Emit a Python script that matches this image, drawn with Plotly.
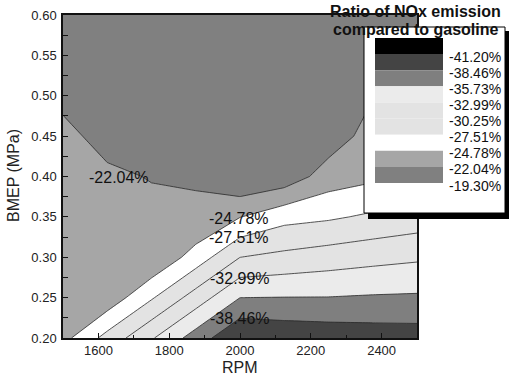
import plotly.graph_objects as go

# ---------------- data ----------------
rpm = [1500, 1625, 1750, 1875, 2000, 2125, 2250, 2375, 2500]
bmep = [0.20, 0.25, 0.30, 0.35, 0.40, 0.45, 0.50, 0.55, 0.60]

# NOx ratio (%) compared to gasoline, one list per RPM column (BMEP 0.20 -> 0.60)
nox_1500 = [-23.90, -23.60, -23.30, -23.00, -22.70, -22.40, -21.70, -21.20, -20.70]
nox_1625 = [-28.45, -22.97, -23.30, -22.90, -22.28, -21.58, -21.10, -20.70, -20.30]
nox_1750 = [-32.70, -27.22, -22.20, -22.40, -21.97, -21.30, -20.80, -20.40, -20.00]
nox_1875 = [-36.95, -31.47, -25.99, -22.20, -21.95, -21.00, -20.60, -20.30, -20.00]
nox_2000 = [-41.10, -35.72, -30.24, -24.70, -19.40, -19.60, -19.80, -20.00, -20.20]
nox_2125 = [-40.50, -35.79, -30.95, -26.60, -20.30, -19.80, -19.90, -20.00, -20.20]
nox_2250 = [-40.20, -35.80, -31.58, -27.12, -23.34, -20.50, -20.80, -20.40, -20.20]
nox_2375 = [-39.94, -36.00, -32.12, -27.96, -24.20, -23.19, -21.90, -21.30, -20.70]
nox_2500 = [-39.80, -36.10, -32.57, -28.70, -24.70, -23.90, -23.20, -22.20, -21.50]

columns = [nox_1500, nox_1625, nox_1750, nox_1875, nox_2000,
           nox_2125, nox_2250, nox_2375, nox_2500]

# contour levels shown in the legend (band boundaries)
level_low = -43.94
level_labels = ["-41.20%", "-38.46%", "-35.73%", "-32.99%", "-30.25%",
                "-27.51%", "-24.78%", "-22.04%", "-19.30%"]
level_step = 2.73778
# band colours from lowest to highest value
band_colors = ["#000000", "#444444", "#7f7f7f", "#ebebeb", "#e3e3e3",
               "#e3e3e3", "#ffffff", "#a6a6a6", "#808080"]

# in-plot contour labels
label_text = ["-22.04%", "-24.78%", "-27.51%", "-32.99%", "-38.46%"]
label_rpm = [1658, 1997, 1997, 2000, 2000]
label_bmep = [0.399, 0.3485, 0.325, 0.2733, 0.2237]

legend_title_lines = ["Ratio of NOx emission", "compared to gasoline"]
x_title = "RPM"
y_title = "BMEP (MPa)"

# ---------------- figure ----------------
z = [list(r) for r in zip(*columns)]

W, H = 510, 377
ML, MR, MT, MB = 63, 0, 15, 39
PW, PH = W - ML - MR, H - MT - MB


def px(x):
    return (x - ML) / PW


def py(y):
    return (H - MB - y) / PH


nb = len(band_colors)
colorscale = [[k / (nb - 1), c] for k, c in enumerate(band_colors)]

start = level_low + level_step
end = level_low + (nb - 1) * level_step + 0.01

fig = go.Figure()
fig.add_trace(go.Contour(
    x=rpm, y=bmep, z=z,
    autocontour=False,
    contours=dict(start=start, end=end, size=level_step,
                  coloring="fill", showlines=True, showlabels=False),
    colorscale=colorscale,
    line=dict(color="#2a2a2a", width=0.8, smoothing=0),
    showscale=False,
    hoverinfo="skip",
))

font_main = "Liberation Sans, Arial, sans-serif"

annotations = []
for t, xr, yb in zip(label_text, label_rpm, label_bmep):
    annotations.append(dict(x=xr, y=yb, xref="x", yref="y", text=t,
                            showarrow=False,
                            font=dict(family=font_main, size=16, color="#111")))

# legend box (shadow + white box)
shapes = [
    dict(type="rect", xref="paper", yref="paper",
         x0=px(368), x1=px(509), y0=py(219), y1=py(31),
         fillcolor="#000000", line=dict(width=0), layer="above"),
    dict(type="rect", xref="paper", yref="paper",
         x0=px(364), x1=px(505), y0=py(213), y1=py(27),
         fillcolor="#ffffff", line=dict(color="#000000", width=1), layer="above"),
]
sw_top, sw_bot = 38, 183
sw_h = (sw_bot - sw_top) / nb
# lowest value on top
for k, c in enumerate(band_colors):
    y0 = sw_top + k * sw_h
    shapes.append(dict(type="rect", xref="paper", yref="paper",
                       x0=px(375), x1=px(443), y0=py(y0 + sw_h), y1=py(y0),
                       fillcolor=c, line=dict(width=0), layer="above"))
for k, t in enumerate(level_labels):
    yb = sw_top + (k + 1) * sw_h + 2.5
    annotations.append(dict(x=px(447), y=py(yb), xref="paper", yref="paper",
                            xanchor="left", yanchor="middle", text=t,
                            showarrow=False,
                            font=dict(family=font_main, size=14, color="#111")))

for i, line in enumerate(legend_title_lines):
    annotations.append(dict(x=px(415), y=py(12 + 18 * i), xref="paper", yref="paper",
                            xanchor="center", yanchor="middle",
                            text="<b>" + line + "</b>", showarrow=False,
                            font=dict(family=font_main, size=16, color="#111")))

# axis titles
annotations.append(dict(x=px(13), y=py(176), xref="paper", yref="paper",
                        xanchor="center", yanchor="middle", textangle=-90,
                        text=y_title, showarrow=False,
                        font=dict(family=font_main, size=16, color="#222")))
annotations.append(dict(x=px(240), y=py(367), xref="paper", yref="paper",
                        xanchor="center", yanchor="middle",
                        text=x_title, showarrow=False,
                        font=dict(family=font_main, size=16, color="#222")))

axis_common = dict(showline=True, linecolor="#111", linewidth=1.5, mirror=True,
                   ticks="inside", ticklen=5, tickwidth=1, tickcolor="#111",
                   showgrid=False, zeroline=False,
                   tickfont=dict(family=font_main, size=13, color="#222"))

fig.update_layout(
    width=W, height=H,
    margin=dict(l=ML, r=MR, t=MT, b=MB, pad=0),
    paper_bgcolor="white", plot_bgcolor="white",
    showlegend=False,
    xaxis=dict(domain=[0, (417 - ML) / PW], range=[1500, 2500],
               tick0=1600, dtick=200,
               minor=dict(ticks="inside", ticklen=3, dtick=100, tick0=1500,
                          tickcolor="#111"),
               **axis_common),
    yaxis=dict(range=[0.2, 0.6], tick0=0.2, dtick=0.05, tickformat=".2f",
               ticklabelstandoff=2,
               minor=dict(ticks="inside", ticklen=5, dtick=0.025, tickcolor="#111"),
               **axis_common),
    shapes=shapes,
    annotations=annotations,
)

fig.write_html("out.html")
